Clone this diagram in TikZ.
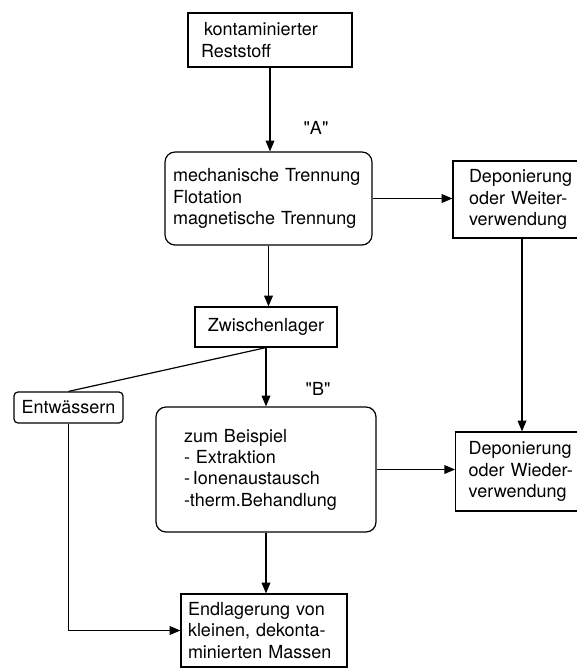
\documentclass[tikz,border=0pt]{standalone}
\usepackage{fontspec}
\setmainfont{TeX Gyre Heros}
\usetikzlibrary{arrows.meta}

\begin{document}
\begin{tikzpicture}[x=0.75pt, y=-0.75pt, line width=0.9pt,
    >={Triangle[length=8pt, width=6.5pt]},
    every node/.style={font=\fontsize{13.5}{16}\selectfont},
    box/.style={draw, align=left, inner ysep=0pt},
    rbox/.style={box, rounded corners=7.5pt}]
  \useasboundingbox (0, 0) rectangle (577, 668);
  \node[box, text width=103.5pt, inner xsep=9.75pt, minimum height=40.5pt] (rest) at (270, 40)
    {\,kontaminierter\\Reststoff};
  \node[rbox, text width=143pt, inner xsep=6.1pt, minimum height=69.75pt] (mech) at (268.5, 198.5)
    {mechanische Trennung\\Flotation\\magnetische Trennung};
  \node[box, text width=79.5pt, inner xsep=12pt, minimum height=57.75pt] (dep1) at (522, 199.5)
    {Deponierung\\oder Weiter-\\verwendung};
  \node[box, align=center, minimum width=106.5pt, minimum height=30pt] (zw) at (266, 327) {Zwischenlager};
  \node[box, align=center, rounded corners=3pt, minimum width=81.75pt, minimum height=23.25pt] (entw) at (68.5, 407.5)
    {Entwässern};
  \node[rbox, text width=123pt, inner xsep=21pt, minimum height=93.75pt] (bsp) at (266, 469.5)
    {zum Beispiel\\-~Extraktion\\-\,Ionenaustausch\\-therm.Behandlung};
  \node[box, text width=80pt, inner xsep=9.75pt, minimum height=59.25pt] (dep2) at (522, 471.5)
    {Deponierung\\oder Wieder-\\verwendung};
  \node[box, text width=114pt, inner xsep=5.25pt, minimum height=54.75pt] (end) at (264, 630.5)
    {Endlagerung von\\kleinen, dekonta-\\minierten Massen};
  \node (la) at (316, 128) {\textquotedbl A\textquotedbl};
  \node (lb) at (318, 389) {\textquotedbl B\textquotedbl};
  \draw[->] (rest.south) -- (rest.south |- mech.north);
  \draw[->] (mech.east) -- (mech.east -| dep1.west);
  \draw[->] (mech.south) -- (mech.south |- zw.north);
  \draw[->] (zw.south) -- (zw.south |- bsp.north);
  \draw (zw.south) -- (entw.north);
  \draw[->] (entw.south) |- (end.west);
  \draw[->] (bsp.east) -- (bsp.east -| dep2.west);
  \draw[->] (dep1.south) -- (dep2.north);
  \draw[->] (bsp.south) -- (bsp.south |- end.north);
\end{tikzpicture}
\end{document}
